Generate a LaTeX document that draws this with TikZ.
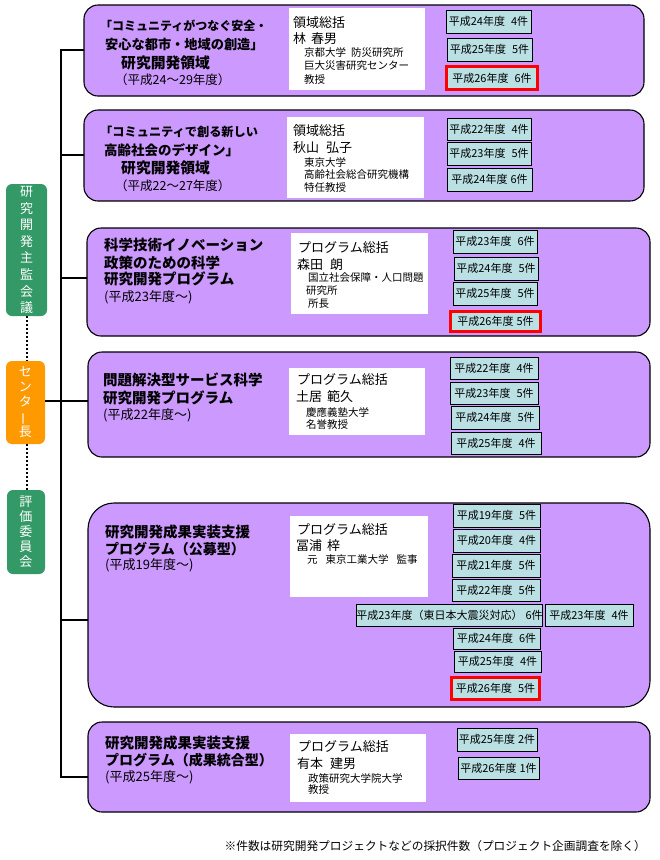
\documentclass[tikz,border=0pt]{standalone}
\usepackage{fontspec}
\setmainfont{Noto Sans CJK JP}
\usepackage{graphicx}
\definecolor{panelc}{HTML}{CC99FF}
\definecolor{boxc}{RGB}{186,224,228}
\definecolor{grnc}{HTML}{339966}
\definecolor{orc}{HTML}{FF9900}
\newcommand\mybox[7]{\node[#1, minimum width={#5-#3}, minimum height={#6-#4}] (#2) at ({(#3+#5)/2},{(#4+#6)/2}) {#7};}
\newcommand\gp{\hspace{6pt}}
\newcommand\gs{\hspace{3pt}}
\begin{document}
\begin{tikzpicture}[x=1pt,y=-1pt,
 panel/.style={draw=black, line width=1.1pt, fill=panelc, rounded corners=14pt, inner sep=0pt, outer sep=0pt},
 wbox/.style={fill=white, inner sep=0pt, outer sep=0pt},
 yr/.style={draw=black, line width=0.9pt, fill=boxc, inner sep=0pt, font=\fontsize{11}{11}\selectfont},
 rd/.style={yr, draw=red, line width=3pt},
 ttl/.style={anchor=west, inner sep=0pt, font=\bfseries\fontsize{14.5}{14.5}\selectfont},
 prd/.style={anchor=west, inner sep=0pt, font=\fontsize{12.5}{12.5}\selectfont},
 prs/.style={anchor=west, inner sep=0pt, font=\fontsize{13}{13}\selectfont},
 nm/.style={anchor=west, inner sep=0pt, font=\fontsize{13}{13}\selectfont},
 af/.style={anchor=west, inner sep=0pt, font=\fontsize{10.5}{10.5}\selectfont},
 lg/.style={fill=grnc, rounded corners=6pt, text=white, align=center, inner sep=0pt, font=\fontsize{13}{16.6}\selectfont},
 lo/.style={fill=orc, rounded corners=6pt, text=white, align=center, inner sep=0pt, font=\fontsize{13}{15}\selectfont},
 lg2/.style={lg, font=\fontsize{13}{15}\selectfont},
 ln/.style={draw=black, line width=1.6pt},
 dt/.style={draw=black, line width=2pt, dotted}
]
\useasboundingbox (0,0) rectangle (660,860);

% ---------------- left column
\mybox{lg}{G1}{6}{184}{47}{316}{研\\究\\開\\発\\主\\監\\会\\議}
\mybox{lo}{C}{6}{361}{45}{444}{セ\\ン\\タ\\{\rotatebox[origin=c]{90}{ー}}\\長}
\mybox{lg2}{G2}{7}{490}{45}{574}{評\\価\\委\\員\\会}
\draw[dt] (G1.south) -- (G1.south |- C.north);
\draw[dt] (G1.south |- C.south) -- (G1.south |- G2.north);

% ---------------- panel 1
\mybox{panel}{P1}{84}{5}{644}{96}{}
\mybox{wbox}{W1}{289}{8}{425}{90}{}
\node[ttl,font=\bfseries\fontsize{12}{12}\selectfont] (t1a) at (100,26) {「コミュニティがつなぐ安全・};
\node[ttl,font=\bfseries\fontsize{13.2}{13}\selectfont] (t1b) at (105,44) {安心な都市・地域の創造」};
\node[ttl,font=\bfseries\fontsize{14.8}{14}\selectfont] (t1c) at (121,63) {研究開発領域};
\node[prd] (t1d) at (115,80) {（平成24～29年度）};
\node[nm] (n1a) at (293,22.7) {領域総括};
\node[nm] (n1b) at (293,39) {林\hspace{5pt}春男};
\node[af] (n1c) at (304,53) {京都大学\hspace{5pt}防災研究所};
\node[af] (n1d) at (304,66) {巨大災害研究センター};
\node[af] (n1e) at (304,80) {教授};
\mybox{yr}{y1a}{446}{10}{531}{33}{平成24年度\gp 4件}
\mybox{yr}{y1b}{447}{38}{532}{61}{平成25年度\gp 5件}
\mybox{rd}{y1c}{446.5}{66.5}{537.5}{89.5}{平成26年度\gp 6件}

% ---------------- panel 2
\mybox{panel}{P2}{84}{110}{644}{201}{}
\mybox{wbox}{W2}{287}{117}{424}{198}{}
\node[ttl,font=\bfseries\fontsize{12.2}{12}\selectfont] (t2a) at (100,132) {「コミュニティで創る新しい};
\node[ttl,font=\bfseries\fontsize{13.5}{13}\selectfont] (t2b) at (104,150) {高齢社会のデザイン」};
\node[ttl,font=\bfseries\fontsize{14.8}{14}\selectfont] (t2c) at (121,168) {研究開発領域};
\node[prd] (t2d) at (115,186) {（平成22～27年度）};
\node[nm] (n2a) at (293,131) {領域総括};
\node[nm] (n2b) at (293,148) {秋山\hspace{7pt}弘子};
\node[af] (n2c) at (304,162) {東京大学};
\node[af] (n2d) at (304,175) {高齢社会総合研究機構};
\node[af] (n2e) at (304,188) {特任教授};
\mybox{yr}{y2a}{447}{118}{531}{140}{平成22年度\gp 4件}
\mybox{yr}{y2b}{447}{142}{531}{165}{平成23年度\gp 5件}
\mybox{yr}{y2c}{447}{168}{532}{191}{平成24年度\gs 6件}

% ---------------- panel 3
\mybox{panel}{P3}{87}{228}{650}{336}{}
\mybox{wbox}{W3}{291}{233}{428}{314}{}
\node[ttl] (t3a) at (104,245) {科学技術イノベーション};
\node[ttl] (t3b) at (104,263) {政策のための科学};
\node[ttl] (t3c) at (104,279) {研究開発プログラム};
\node[prs] (t3d) at (104,297) {(平成23年度～)};
\node[nm] (n3a) at (298,248) {プログラム総括};
\node[nm] (n3b) at (297,265) {森田\hspace{7pt}朗};
\node[af] (n3c) at (308,278) {国立社会保障・人口問題};
\node[af] (n3d) at (306,291) {研究所};
\node[af] (n3e) at (308,304) {所長};
\mybox{yr}{y3a}{453}{230}{537}{253}{平成23年度\gp 6件}
\mybox{yr}{y3b}{454}{257}{538}{280}{平成24年度\gp 5件}
\mybox{yr}{y3c}{453}{282}{537}{305}{平成25年度\gp 5件}
\mybox{rd}{y3d}{450.5}{311.5}{540.5}{331.5}{平成26年度\gs 5件}

% ---------------- panel 4
\mybox{panel}{P4}{88}{352}{650}{457}{}
\mybox{wbox}{W4}{289}{368}{425}{435}{}
\node[ttl] (t4a) at (103,380) {問題解決型サービス科学};
\node[ttl] (t4b) at (103,398) {研究開発プログラム};
\node[prs] (t4c) at (103,415) {(平成22年度～)};
\node[nm] (n4a) at (297,380) {プログラム総括};
\node[nm] (n4b) at (296,397) {土居\hspace{5pt}範久};
\node[af] (n4c) at (306,412) {慶應義塾大学};
\node[af] (n4d) at (306,425) {名誉教授};
\mybox{yr}{y4a}{450}{357}{538}{379}{平成22年度\gp 4件}
\mybox{yr}{y4b}{450}{382}{538}{404}{平成23年度\gp 5件}
\mybox{yr}{y4c}{451}{406}{539}{429}{平成24年度\gp 5件}
\mybox{yr}{y4d}{451}{432}{541}{454}{平成25年度\gp 4件}

% ---------------- panel 5
\mybox{panel,rounded corners=26pt}{P5}{88}{503}{650}{707}{}
\mybox{wbox}{W5}{290}{516}{428}{597}{}
\node[ttl] (t5a) at (105,532) {研究開発成果実装支援};
\node[ttl,font=\bfseries\fontsize{14}{14}\selectfont] (t5b) at (105,549) {プログラム（公募型）};
\node[prs] (t5c) at (105,565) {(平成19年度～)};
\node[nm] (n5a) at (297,530) {プログラム総括};
\node[nm] (n5b) at (296,546) {冨浦\hspace{5pt}梓};
\node[af] (n5c) at (307,559) {元\hspace{8pt}東京工業大学\hspace{8pt}監事};
\mybox{yr}{y5a}{453}{504}{540}{527}{平成19年度\gp 5件}
\mybox{yr}{y5b}{453}{529}{540}{552}{平成20年度\gp 4件}
\mybox{yr}{y5c}{452}{554}{540}{577}{平成21年度\gp 5件}
\mybox{yr}{y5d}{452}{579}{540}{601}{平成22年度\gp 5件}
\mybox{yr}{y5e}{358}{604}{541}{626}{平成23年度（東日本大震災対応）\gs 6件}
\mybox{yr}{y5f}{545}{604}{633}{626}{平成23年度\gp 4件}
\mybox{yr}{y5g}{453}{628}{540}{649}{平成24年度\gp 6件}
\mybox{yr}{y5h}{454}{651}{541}{672}{平成25年度\gp 4件}
\mybox{rd}{y5i}{451.5}{677.5}{539.5}{699.5}{平成26年度\gp 5件}

% ---------------- panel 6
\mybox{panel}{P6}{88}{722}{650}{812}{}
\mybox{wbox}{W6}{290}{734}{426}{802}{}
\node[ttl] (t6a) at (105,743) {研究開発成果実装支援};
\node[ttl,font=\bfseries\fontsize{14}{14}\selectfont] (t6b) at (105,760) {プログラム（成果統合型）};
\node[prs] (t6c) at (105,777) {(平成25年度～)};
\node[nm] (n6a) at (298,747) {プログラム総括};
\node[nm] (n6b) at (297,764) {有本\hspace{7pt}建男};
\node[af] (n6c) at (308,778) {政策研究大学院大学};
\node[af] (n6d) at (308,790) {教授};
\mybox{yr}{y6a}{457}{728}{537}{751}{平成25年度\gs 2件}
\mybox{yr}{y6b}{458}{757}{539}{779}{平成26年度\gs 1件}

% ---------------- connectors
\coordinate (s1) at (61,50);
\coordinate (s2) at (61,155);
\coordinate (s3) at (61,278);
\coordinate (s4) at (61,401);
\coordinate (s5) at (61,620);
\coordinate (s6) at (61,777);
\draw[ln] (s1 -| P1.west) -- (s1) -- (s6) -- (s6 -| P6.west);
\draw[ln] (s2) -- (s2 -| P2.west);
\draw[ln] (s3) -- (s3 -| P3.west);
\draw[ln] (s4 -| C.east) -- (s4 -| P4.west);
\draw[ln] (s5) -- (s5 -| P5.west);

% ---------------- footnote
\node[anchor=east, inner sep=0pt, font=\fontsize{11.7}{11}\selectfont] (note) at (646,846) {※件数は研究開発プロジェクトなどの採択件数（プロジェクト企画調査を除く）};
\end{tikzpicture}
\end{document}
